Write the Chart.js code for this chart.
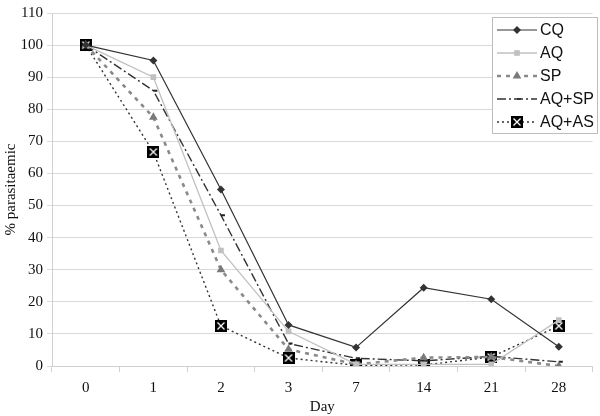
<!DOCTYPE html>
<html>
<head>
<meta charset="utf-8">
<script src="https://cdn.jsdelivr.net/npm/chart.js@4.4.1/dist/chart.umd.min.js"></script>
<style>
  html, body { margin: 0; padding: 0; background: #fff; }
  #wrap { width: 600px; height: 416px; position: relative; }
</style>
</head>
<body>
<div id="wrap"><canvas id="c" width="600" height="416"></canvas></div>
<script>
// Datos
const days = ['0', '1', '2', '3', '7', '14', '21', '28'];
const cq    = [100, 95.2, 55, 12.8, 5.8, 24.4, 20.8, 6];
const aq    = [100, 90, 36, 10.8, 0.5, 0.5, 0.5, 14.3];
const sp    = [100, 77.5, 30, 5.2, 0.5, 2.6, 2.8, 0];
const aqsp  = [100, 85.8, 47, 7, 2.4, 1.6, 3, 1.3];
const aqas  = [100, 66.7, 12.5, 2.5, 0.2, 0.3, 2.8, 12.5];
const yTicks = [0, 10, 20, 30, 40, 50, 60, 70, 80, 90, 100, 110];

const serif = "'Liberation Serif', 'Times New Roman', serif";
const sans = "'Liberation Sans', Arial, sans-serif";

// marcador cuadrado negro con cruz blanca (AQ+AS)
function crossBox() {
    const s = 12;
    const cv = document.createElement('canvas');
    cv.width = s; cv.height = s;
    const c = cv.getContext('2d');
    c.fillStyle = '#000';
    c.fillRect(0, 0, s, s);
    c.strokeStyle = '#fff';
    c.lineWidth = 1.3;
    c.beginPath();
    c.moveTo(2.5, 2.5); c.lineTo(s - 2.5, s - 2.5);
    c.moveTo(s - 2.5, 2.5); c.lineTo(2.5, s - 2.5);
    c.stroke();
    return cv;
}
const crossImg = crossBox();

const datasets = [
    { label: 'CQ', data: cq, borderColor: '#333', backgroundColor: '#333', borderWidth: 1.2,
      pointStyle: 'rectRot', pointRadius: 4, pointBorderWidth: 0 },
    { label: 'AQ', data: aq, borderColor: '#c0c0c0', backgroundColor: '#c0c0c0', borderWidth: 1.3,
      pointStyle: 'rect', pointRadius: 4, pointBorderWidth: 0 },
    { label: 'SP', data: sp, borderColor: '#8a8a8a', backgroundColor: '#7a7a7a', borderWidth: 2.6,
      borderDash: [4, 5], pointStyle: 'triangle', pointRadius: 5, pointBorderWidth: 0 },
    { label: 'AQ+SP', data: aqsp, borderColor: '#333', backgroundColor: '#222', borderWidth: 1.4,
      borderDash: [9, 3, 2, 3], pointStyle: 'dash', pointRadius: 4, pointBorderWidth: 2, pointBorderColor: '#222' },
    { label: 'AQ+AS', data: aqas, borderColor: '#333', backgroundColor: '#111', borderWidth: 1.4,
      borderDash: [2, 3], pointStyle: crossImg, pointRadius: 6 },
];
datasets.forEach(d => { d.tension = 0; d.fill = false; d.pointHoverRadius = d.pointRadius; });

// leyenda dibujada a mano (línea + marcador)
const legendBox = {
    id: 'legendBox',
    afterDraw: (chart) => {
        const c = chart.ctx;
        const x0 = 492, y0 = 17, w = 105, h = 116;
        c.save();
        c.fillStyle = '#fff';
        c.fillRect(x0, y0, w, h);
        c.strokeStyle = '#bdbdbd';
        c.lineWidth = 1;
        c.strokeRect(x0 + 0.5, y0 + 0.5, w, h);
        chart.data.datasets.forEach((d, i) => {
            const y = 30 + i * 23;
            c.beginPath();
            c.setLineDash(d.borderDash || []);
            c.strokeStyle = d.borderColor;
            c.lineWidth = d.borderWidth;
            c.moveTo(497, y);
            c.lineTo(537, y);
            c.stroke();
            c.setLineDash([]);
            c.fillStyle = d.backgroundColor;
            c.strokeStyle = d.pointBorderColor || d.backgroundColor;
            Chart.helpers.drawPoint(c, {
                pointStyle: d.pointStyle, radius: d.pointRadius,
                rotation: 0, borderWidth: d.pointBorderWidth || 0
            }, 517, y);
            c.fillStyle = '#111';
            c.font = '16px ' + sans;
            c.textAlign = 'left';
            c.textBaseline = 'middle';
            c.fillText(d.label, 540, y + 1);
        });
        c.restore();
    },
};

new Chart(document.getElementById('c'), {
    type: 'line',
    data: { labels: days, datasets },
    options: {
        responsive: false,
        animation: false,
        devicePixelRatio: 1,
        layout: { padding: { left: 2, right: 7, top: 0, bottom: 0 } },
        plugins: { legend: { display: false }, tooltip: { enabled: false } },
        scales: {
            x: {
                type: 'category',
                offset: true,
                afterFit: (axis) => { axis.height = 50; },
                grid: { display: true, drawOnChartArea: false, drawTicks: true, tickLength: 6,
                        offset: true, color: '#d0d0d0' },
                border: { color: '#d0d0d0' },
                ticks: { font: { family: serif, size: 15 }, color: '#111', padding: 7 },
                title: { display: true, text: 'Day', font: { family: serif, size: 15 }, color: '#111', padding: { top: 0, bottom: 0 } },
            },
            y: {
                min: 0, max: 110,
                afterBuildTicks: (axis) => { axis.ticks = yTicks.map(v => ({ value: v })); },
                afterFit: (axis) => { axis.width = 50; },
                grid: { color: '#d9d9d9', tickLength: 5, drawTicks: true },
                border: { color: '#d0d0d0' },
                ticks: { font: { family: serif, size: 15 }, color: '#111', padding: 4 },
                title: { display: true, text: '% parasitaemic', font: { family: serif, size: 15 }, color: '#111', padding: 0 },
            },
        },
    },
    plugins: [legendBox],
});
</script>
</body>
</html>
